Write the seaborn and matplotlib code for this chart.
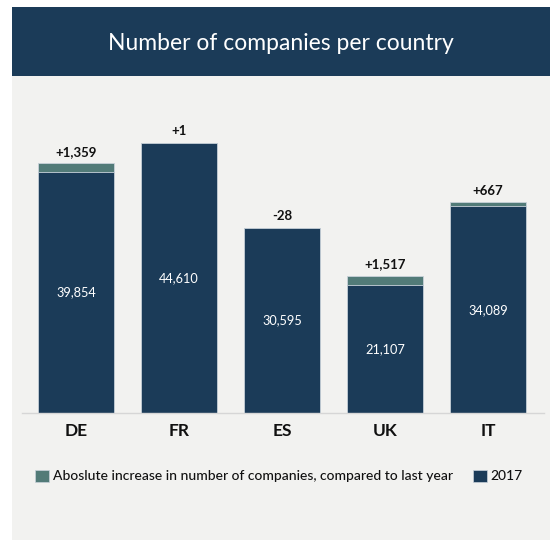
import numpy as np
import pandas as pd
import matplotlib
matplotlib.use("Agg")
import matplotlib.pyplot as plt
from matplotlib.patches import Rectangle, Patch
import seaborn as sns

# ── data ──
countries = ["DE", "FR", "ES", "UK", "IT"]
companies_2017 = [39854, 44610, 30595, 21107, 34089]
increase = [1359, 1, -28, 1517, 667]

NAVY = "#1b3b58"
TEAL = "#527b78"
BG = "#f2f2f0"

sns.set_theme(style="white")
plt.rcParams["font.family"] = ["Lato", "DejaVu Sans"]

df = pd.DataFrame({
    "country": countries,
    "y2017": companies_2017,
    "inc": increase,
})
df["total"] = df["y2017"] + df["inc"]

W, H = 550, 540
fig = plt.figure(figsize=(W / 100, H / 100), dpi=100, facecolor="white")

# panel + header band (kept behind the axes)
fig.patches.append(Rectangle((12 / W, 0), 1 - 12 / W, 1 - 7 / H,
                             transform=fig.transFigure, facecolor=BG,
                             edgecolor="none", zorder=-2))
fig.patches.append(Rectangle((12 / W, 1 - 76.5 / H), 1 - 12 / W, 69.5 / H,
                             transform=fig.transFigure, facecolor=NAVY,
                             edgecolor="none", zorder=-1))
fig.text(281 / W, 1 - 43 / H, "Number of companies per country", color="white",
         fontsize=16.5, ha="center", va="center")

ax = fig.add_axes([22 / W, 1 - 413 / H, 522 / W, 312 / H])
ax.set_zorder(2)
ax.set_facecolor("none")

# total (2017 + increase) first, then the 2017 part on top of it
sns.barplot(data=df, x="country", y="total", color=TEAL, saturation=1,
            width=0.74, edgecolor="#c9d2da", linewidth=0.6, ax=ax)
sns.barplot(data=df, x="country", y="y2017", color=NAVY, saturation=1,
            width=0.74, edgecolor="#c9d2da", linewidth=0.6, ax=ax)

for i, row in df.iterrows():
    top = max(row["y2017"], row["total"])
    ax.text(i, row["y2017"] / 2, f"{row['y2017']:,}", color="white",
            fontsize=9.2, ha="center", va="center")
    sign = "+" if row["inc"] >= 0 else "-"
    ax.text(i, top + 1900, f"{sign}{abs(row['inc']):,}", color="#111111",
            fontsize=9.5, fontweight="bold", ha="center", va="center")

ax.set_xlim(-0.524, 4.544)
ax.set_ylim(0, 51500)
ax.set_xlabel("")
ax.set_ylabel("")
ax.set_yticks([])
ax.tick_params(axis="x", length=0, pad=7, labelsize=12.5, labelcolor="#111111")
for lab in ax.get_xticklabels():
    lab.set_fontweight("bold")
for s in ["top", "right", "left"]:
    ax.spines[s].set_visible(False)
ax.spines["bottom"].set_color("#d6d6d6")
ax.spines["bottom"].set_linewidth(1)

handles = [Patch(facecolor=TEAL, edgecolor="#c9d2da", linewidth=0.5,
                 label="Aboslute increase in number of companies, compared to last year"),
           Patch(facecolor=NAVY, edgecolor="#c9d2da", linewidth=0.5, label="2017")]
fig.legend(handles=handles, loc="center", bbox_to_anchor=(279 / W, 1 - 476 / H),
           ncol=2, frameon=False, fontsize=10, handlelength=1.0, handleheight=1.0,
           handletextpad=0.25, columnspacing=1.5, labelcolor="#111111",
           prop={"family": ["Lato", "DejaVu Sans"], "size": 10, "weight": "medium"})

fig.savefig("out.png", dpi=100, facecolor="white")
